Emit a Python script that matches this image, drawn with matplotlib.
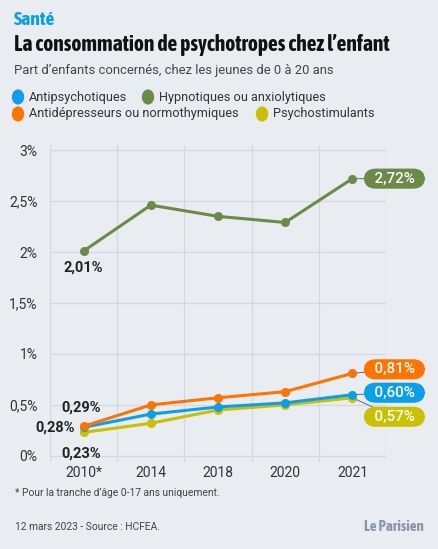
import matplotlib.pyplot as plt
from matplotlib import font_manager

# Data
annees = ["2010*", "2014", "2018", "2020", "2021"]
antipsychotiques = [0.28, 0.41, 0.48, 0.52, 0.60]
hypnotiques = [2.01, 2.46, 2.35, 2.29, 2.72]
antidepresseurs = [0.29, 0.50, 0.57, 0.63, 0.81]
psychostimulants = [0.23, 0.32, 0.45, 0.50, 0.57]
yticks = [0, 0.5, 1, 1.5, 2, 2.5, 3]
ytick_labels = ["0%", "0,5%", "1%", "1,5%", "2%", "2,5%", "3%"]

BG = "#e9edf2"
BLUE = "#0b9fe8"
GREEN = "#6a8a48"
ORANGE = "#ff7300"
YELLOW = "#c9c000"
GRID = "#d3d8de"

# look for a condensed font that has a bold face, else fall back to Roboto
def weight_num(w):
    if isinstance(w, str):
        return font_manager.weight_dict.get(w, 400)
    return w

NARROW = "Roboto"
for f in sorted(font_manager.fontManager.ttflist, key=lambda f: f.name):
    if ("Condensed" in f.name or "Narrow" in f.name) and f.style == "normal" \
            and weight_num(f.weight) >= 600:
        NARROW = f.name
        break
plt.rcParams["font.family"] = ["Roboto", "DejaVu Sans"]

W, H = 439, 549
fig = plt.figure(figsize=(W / 100, H / 100), dpi=100, facecolor=BG)
renderer = fig.canvas.get_renderer()

def fx(x):
    return x / W

def fy(y):
    return 1 - y / H

def fit_width(t, width_px):
    # shrink font until text fits the width seen in the reference
    for _ in range(30):
        w = t.get_window_extent(renderer).width
        if w <= width_px:
            break
        t.set_fontsize(t.get_fontsize() * width_px / w * 0.995)

# Header
sante = fig.text(fx(14), fy(20), "Santé", color=BLUE, fontsize=14, fontweight="bold",
                 family=NARROW, va="center")
fit_width(sante, 47)
title = fig.text(fx(14), fy(45), "La consommation de psychotropes chez l\u2019enfant",
                 color="#111111", fontsize=15.5, fontweight="bold", family=NARROW,
                 va="center")
fit_width(title, 378)
fig.text(fx(14), fy(70), "Part d\u2019enfants concernés, chez les jeunes de 0 à 20 ans",
         color="#444444", fontsize=9.4, va="center")

# Legend
legend_items = [
    (18, 97, BLUE, "Antipsychotiques"),
    (148, 97, GREEN, "Hypnotiques ou anxiolytiques"),
    (18, 114, ORANGE, "Antidépresseurs ou normothymiques"),
    (262, 114, YELLOW, "Psychostimulants"),
]
for x, y, c, lab in legend_items:
    fig.patches.append(plt.Circle((fx(x), fy(y)), 0.0125, color=c,
                                  transform=fig.transFigure, figure=fig))
    fig.text(fx(x + 11), fy(y), lab, color="#333333", fontsize=9.2, va="center")

# Axes
ax = fig.add_axes([fx(50), fy(462), fx(386) - fx(50), fy(145) - fy(462)])
ax.set_facecolor(BG)
ax.set_xlim(-0.5, 4.5)
ax.set_ylim(-0.06, 3.05)
for s in ax.spines.values():
    s.set_visible(False)
for yv in yticks:
    ax.axhline(yv, color=GRID, lw=0.9, zorder=0)
for i in range(len(annees) + 1):
    ax.axvline(i - 0.5, color=GRID, lw=0.9, zorder=0)

ax.set_yticks(yticks)
ax.set_yticklabels(ytick_labels, fontsize=10, color="#333333")
ax.set_xticks(range(len(annees)))
ax.set_xticklabels(annees, fontsize=10, color="#333333")
ax.tick_params(length=0, axis="y", pad=9)
ax.tick_params(length=0, axis="x", pad=3)

x = list(range(len(annees)))
series = [
    (hypnotiques, GREEN),
    (psychostimulants, YELLOW),
    (antipsychotiques, BLUE),
    (antidepresseurs, ORANGE),
]
for vals, c in series:
    ax.plot(x, vals, color=c, lw=2.2, marker="o", ms=5.5, zorder=3, clip_on=False)

# Left labels (first year)
left = [
    (hypnotiques[0], (0, -17), "2,01%"),
    (antidepresseurs[0], (-2, 19), "0,29%"),
    (antipsychotiques[0], (-28, 0), "0,28%"),
    (psychostimulants[0], (-2, -21), "0,23%"),
]
for v, off, txt in left:
    ax.annotate(txt, (0, v), xytext=off, textcoords="offset pixels", ha="center",
                va="center", fontsize=10.5, fontweight="bold", color="#222222",
                annotation_clip=False)

# Right labels (last year), rounded boxes
right = [
    (hypnotiques[-1], (42, 0), "2,72%", GREEN),
    (antidepresseurs[-1], (42, 4), "0,81%", ORANGE),
    (antipsychotiques[-1], (42, 2), "0,60%", BLUE),
    (psychostimulants[-1], (42, -19), "0,57%", YELLOW),
]
for v, off, txt, c in right:
    ax.annotate("  " + txt + "  ", (4, v), xytext=off, textcoords="offset pixels",
                ha="center", va="center", fontsize=11, color="white",
                fontweight="medium",
                bbox=dict(boxstyle="round,pad=0.2,rounding_size=0.8", fc=c, ec="none"),
                arrowprops=dict(arrowstyle="-", color="#777777", lw=0.8,
                                shrinkA=0, shrinkB=3),
                annotation_clip=False, zorder=5)

# Footer
fig.text(fx(15), fy(493), "* Pour la tranche d\u2019âge 0-17 ans uniquement.", color="#444444",
         fontsize=7.4, va="center")
fig.text(fx(15), fy(527), "12 mars 2023 - Source : HCFEA.", color="#444444",
         fontsize=7.4, va="center")
logo = fig.text(fx(424), fy(527), "Le Parisien", color="#8696ac", fontsize=13,
                fontweight="bold", family=NARROW, ha="right", va="center")
fit_width(logo, 60)

fig.savefig("out.png", dpi=100, facecolor=BG)
